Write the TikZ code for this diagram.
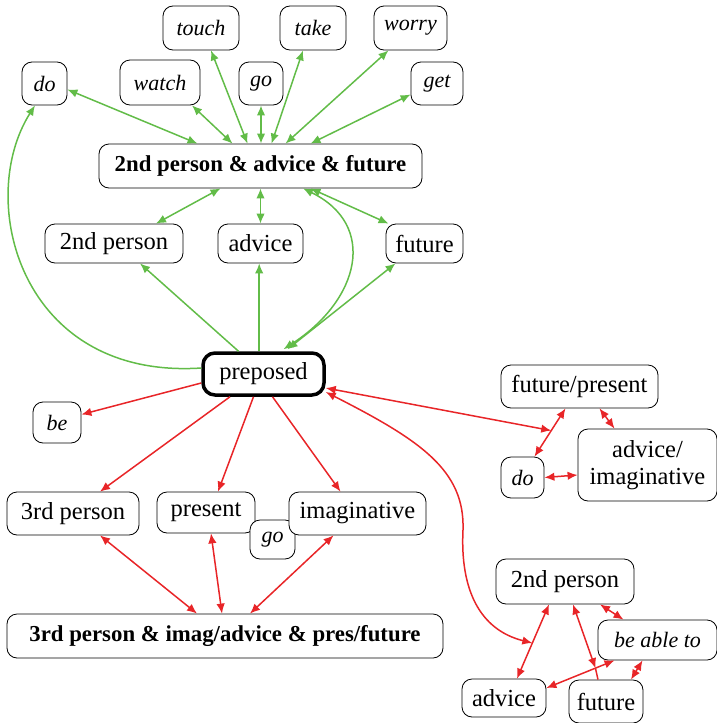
\documentclass[tikz,border=0pt]{standalone}
\usepackage{fontspec}
\setmainfont{Liberation Serif}
\usetikzlibrary{arrows.meta}
\definecolor{gcol}{RGB}{98,188,72}
\definecolor{rcol}{RGB}{232,37,40}
\tikzset{
  box/.style={draw, rounded corners=10pt, line width=0.8pt, fill=white, inner sep=0pt, align=center, font=\fontsize{24.5}{27}\selectfont},
  bbox/.style={box, font=\fontsize{22.8}{25}\selectfont\bfseries},
  ibox/.style={box, font=\fontsize{22}{25}\selectfont\itshape},
  gb/.style={gcol, line width=1.5pt, <->},
  gs/.style={gcol, line width=1.5pt, ->},
  rb/.style={rcol, line width=1.5pt, <->},
  rs/.style={rcol, line width=1.5pt, ->},
  rl/.style={rcol, line width=1.5pt},
  >={Latex[length=10pt,width=8.5pt]}
}
\begin{document}
\begin{tikzpicture}[x=1pt,y=-1pt]
\useasboundingbox (0,0) rectangle (717,723);
% green nodes
\node[ibox, minimum width=76pt, minimum height=44pt] (touch) at (201,28) {touch};
\node[ibox, minimum width=66pt, minimum height=44pt] (take) at (313,28) {take};
\node[ibox, minimum width=73pt, minimum height=44pt] (worry) at (410.5,28) {worry};
\node[ibox, minimum width=45pt, minimum height=43pt] (do1) at (44.5,83.5) {do};
\node[ibox, minimum width=80pt, minimum height=45pt] (watch) at (160,82.5) {watch};
\node[ibox, minimum width=44pt, minimum height=43pt] (go1) at (261,83.5) {go};
\node[ibox, minimum width=52pt, minimum height=43pt] (get) at (437,83.5) {get};
\node[bbox, minimum width=323pt, minimum height=44pt] (paf) at (260.5,166) {2nd person \& advice \& future};
\node[box, minimum width=138pt, minimum height=39pt] (p2) at (114,243.5) {2nd person};
\node[box, minimum width=85pt, minimum height=39pt] (adv) at (260.5,243.5) {advice};
\node[box, minimum width=77pt, minimum height=39pt] (fut) at (424.5,243.5) {future};
\node[box, line width=3.5pt, rounded corners=12pt, minimum width=121pt, minimum height=42pt] (prep) at (263.5,374) {preposed};
% red nodes
\node[ibox, minimum width=48pt, minimum height=41pt] (be) at (57,422.5) {be};
\node[box, minimum width=157pt, minimum height=43pt] (fp) at (579.5,386.5) {future/present};
\node[box, minimum width=139pt, minimum height=72pt] (ai) at (647.5,465) {advice/\\imaginative};
\node[ibox, minimum width=43pt, minimum height=41pt] (do2) at (522.5,477.5) {do};
\node[box, minimum width=132pt, minimum height=43pt] (p3) at (73,513.5) {3rd person};
\node[box, minimum width=98pt, minimum height=41pt] (pres) at (206,512.5) {present};
\node[ibox, minimum width=45pt, minimum height=39pt] (go2) at (272.5,539.5) {go};
\node[box, minimum width=137pt, minimum height=43pt] (imag) at (357.5,513.5) {imaginative};
\node[bbox, minimum width=436pt, minimum height=44pt] (tpaf) at (225,636) {3rd person \& imag/advice \& pres/future};
\node[box, minimum width=138pt, minimum height=45pt] (p2r) at (565,581.5) {2nd person};
\node[ibox, minimum width=119pt, minimum height=40pt] (bat) at (657.5,640) {be able to};
\node[box, minimum width=84pt, minimum height=38pt] (advr) at (504,698) {advice};
\node[box, minimum width=74pt, minimum height=43pt] (futr) at (606,701.5) {future};
% green edges
\draw[gb] ([yshift=-6pt]do1.east) -- ([xshift=-63pt]paf.north);
\draw[gb] ([xshift=32pt]watch.south) -- ([xshift=-28pt]paf.north);
\draw[gb] ([xshift=10pt]touch.south) -- ([xshift=-13pt]paf.north);
\draw[gb] (go1.south) -- ([xshift=0.5pt]paf.north);
\draw[gb] ([xshift=-10pt]take.south) -- ([xshift=11pt]paf.north);
\draw[gb] ([xshift=-22pt]worry.south) -- ([xshift=25pt]paf.north);
\draw[gb] ([yshift=-11pt]get.west) -- ([xshift=50pt]paf.north);
\draw[gb] ([xshift=-40pt]paf.south) -- ([xshift=42pt]p2.north);
\draw[gb] (paf.south) -- (adv.north);
\draw[gb] ([xshift=50pt]paf.south) -- ([xshift=-36pt]fut.north);
\draw[gs] ([xshift=-25pt]prep.north) -- ([xshift=26pt]p2.south);
\draw[gs] ([xshift=-4.3pt]prep.north) -- ([xshift=-1.3pt]adv.south);
\draw[gb] ([xshift=24pt,yshift=2pt]prep.north) -- ([xshift=-29pt]fut.south);
\draw[gb] ([xshift=20pt,yshift=2pt]prep.north) .. controls (360,300) and (378,225) .. ([xshift=42.5pt]paf.south);
\draw[gs] ([yshift=6pt]prep.west) .. controls (20,380) and (-25,200) .. ([xshift=-9.5pt]do1.south);
% red edges
\draw[rs] ([yshift=-9pt]prep.west) -- ([yshift=8pt]be.east);
\draw[rs] ([xshift=-33.5pt]prep.south) -- ([xshift=27pt]p3.north);
\draw[rs] ([xshift=-10pt]prep.south) -- ([xshift=12pt]pres.north);
\draw[rs] ([xshift=9pt]prep.south) -- ([xshift=-17pt]imag.north);
\draw[rb] ([xshift=12pt]do2.north) -- coordinate[pos=0.54] (X1) ([xshift=-14pt]fp.south);
\draw[rb] ([yshift=-14pt]prep.east) -- (X1);
\draw[rb] ([xshift=20pt]fp.south) -- ([xshift=-33pt]ai.north);
\draw[rb] (do2.east) -- ([yshift=-10pt]ai.west);
\draw[rb] ([xshift=27pt]p3.south) -- ([xshift=-28pt]tpaf.north);
\draw[rb] ([xshift=5pt]pres.south) -- ([xshift=-3pt]tpaf.north);
\draw[rb] ([xshift=-24pt]imag.south) -- ([xshift=25pt]tpaf.north);
\draw[rb] ([xshift=-16pt]p2r.south) -- coordinate[pos=0.52] (X2) ([xshift=13pt]advr.north);
\draw[rb] ([yshift=-18pt]prep.east) .. controls (420,440) and (465,470) .. (463,530) .. controls (460,590) and (480,630) .. (X2);
\draw[rb] ([xshift=35pt]p2r.south) -- ([xshift=-34pt]bat.north);
\draw[rb] ([xshift=-15pt]bat.south) -- ([xshift=25pt]futr.north);
\draw[rb] ([xshift=-43pt]bat.south) -- coordinate[pos=0.28] (X3) ([yshift=10pt]advr.east);
\draw[rb] ([xshift=8pt]p2r.south) -- (X3);
\draw[rl] (X3) -- ([xshift=-8pt]futr.north);
\end{tikzpicture}
\end{document}
